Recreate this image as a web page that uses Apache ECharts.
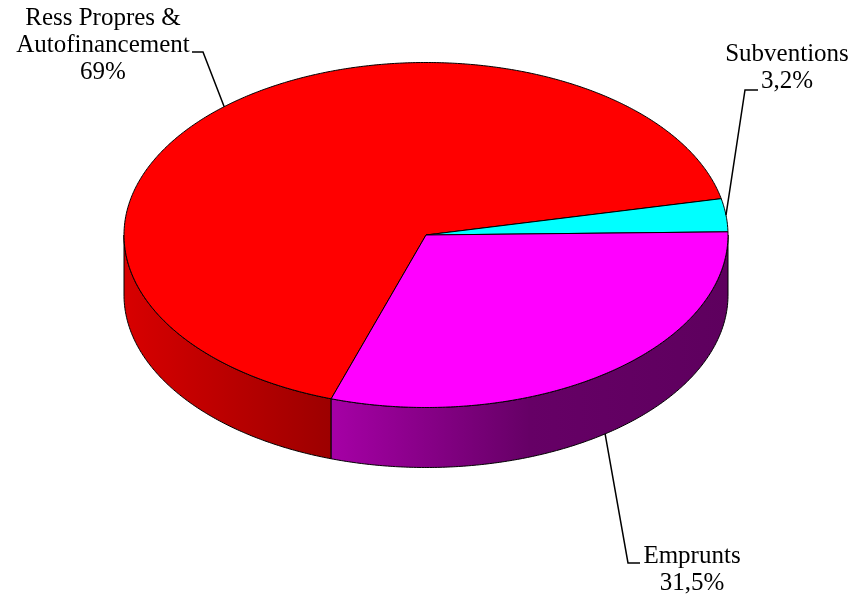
<!DOCTYPE html>
<html><head><meta charset="utf-8">
<script src="https://cdn.jsdelivr.net/npm/echarts@6/dist/echarts.min.js"></script>
<style>html,body{margin:0;padding:0;background:#fff}#c{width:868px;height:597px}</style>
</head><body><div id="c"></div>
<script>
// Data
const categories = ['Ress Propres &\nAutofinancement', 'Subventions', 'Emprunts'];
const values = [69, 3.2, 31.5];
const topColors = ['#FF0000', '#00FFFF', '#FF00FF'];
const sideStops = [
  [[0, '#D80000'], [1, '#9C0000']],
  [[0, '#00C8C8'], [1, '#006464']],
  [[0, '#A600A6'], [0.5, '#660066'], [1, '#5E005E']]
];

// Layout (pixels in 868x597 reference space)
const START = 108.3;           // start angle of first slice (deg, clockwise from 3 o'clock)
const GEO = {cx: 426, cy: 235, rx: 302, ry: 172.5, depth: 60};
const labelLayout = [
  {tx: 103, ty: 45, elbow: [203, 52], end: [192, 52]},
  {tx: 787, ty: 67.5, elbow: [745, 90], end: [758, 90]},
  {tx: 692, ty: 570, elbow: [628, 563], end: [640, 563]}
];

function fmt(v) { return String(v).replace('.', ',') + '%'; }

const chart = echarts.init(document.getElementById('c'), null, {renderer: 'canvas'});

function renderItem(params, api) {
  const i = params.dataIndex;
  const W = api.getWidth(), H = api.getHeight();
  const sx = W / 868, sy = H / 597;
  const cx = GEO.cx * sx, cy = GEO.cy * sy, rx = GEO.rx * sx, ry = GEO.ry * sy, dep = GEO.depth * sy;
  const total = values.reduce((a, b) => a + b, 0);
  let a0 = START;
  for (let k = 0; k < i; k++) a0 += values[k] / total * 360;
  const a1 = a0 + api.value(0) / total * 360;
  const rad = d => d * Math.PI / 180;
  const pt = (d, off) => [cx + rx * Math.cos(rad(d)), cy + ry * Math.sin(rad(d)) + (off || 0)];
  function arc(from, to, off) {
    const n = Math.max(2, Math.ceil(Math.abs(to - from) / 0.5));
    const out = [];
    for (let j = 0; j <= n; j++) out.push(pt(from + (to - from) * j / n, off));
    return out;
  }
  const children = [];
  // sides (front half only)
  for (const k of [0, 360, 720]) {
    const lo = Math.max(a0, k), hi = Math.min(a1, k + 180);
    if (hi > lo) {
      const pts = arc(lo, hi, 0).concat(arc(hi, lo, dep));
      children.push({
        type: 'polygon',
        shape: {points: pts},
        style: {
          fill: new echarts.graphic.LinearGradient(0, 0, 1, 0,
            sideStops[i].map(s => ({offset: s[0], color: s[1]}))),
          stroke: '#000', lineWidth: 1, lineJoin: 'round'
        }
      });
    }
  }
  // top face
  children.push({
    type: 'polygon',
    shape: {points: [[cx, cy]].concat(arc(a0, a1, 0))},
    style: {fill: topColors[i], stroke: '#000', lineWidth: 1, lineJoin: 'round'}
  });
  // leader line
  const m = (a0 + a1) / 2;
  const front = Math.sin(rad(m)) > 0;
  const anchor = pt(m, front ? dep : 0);
  const L = labelLayout[i];
  children.push({
    type: 'polyline',
    shape: {points: [anchor, [L.elbow[0] * sx, L.elbow[1] * sy], [L.end[0] * sx, L.end[1] * sy]]},
    style: {stroke: '#000', lineWidth: 1.5, fill: null}
  });
  children.push({
    type: 'text',
    style: {
      text: categories[i] + '\n' + fmt(api.value(0)),
      x: L.tx * sx, y: L.ty * sy,
      fill: '#000', fontSize: 25, fontFamily: '"Liberation Serif", "Times New Roman", serif',
      align: 'center', verticalAlign: 'middle', lineHeight: 27
    }
  });
  return {type: 'group', children};
}

chart.setOption({
  backgroundColor: '#fff',
  animation: false,
  series: [{
    type: 'custom',
    coordinateSystem: 'none',
    renderItem: renderItem,
    data: values.map((v, i) => ({name: categories[i], value: [v]}))
  }]
});
</script>
</body></html>
